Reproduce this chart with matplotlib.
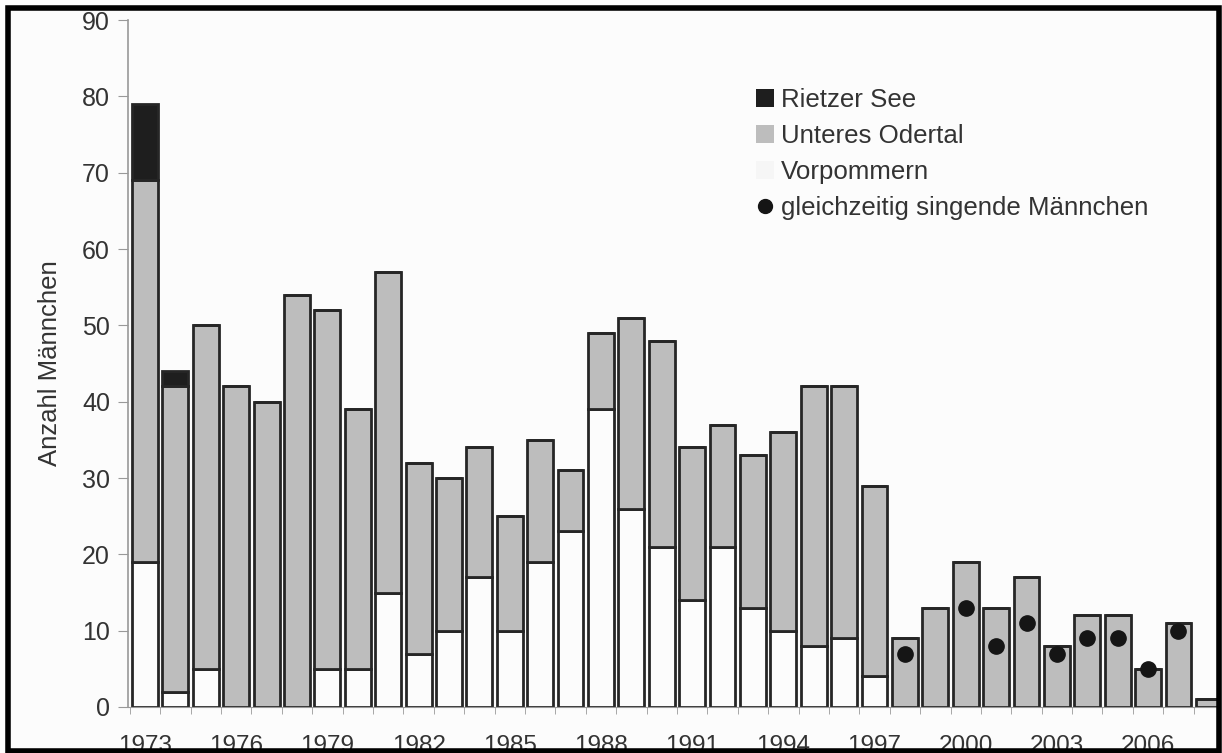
import matplotlib
matplotlib.use("Agg")
import matplotlib.pyplot as plt
import numpy as np
from matplotlib.patches import Rectangle

years = list(range(1973, 2009))
vorpommern = [19, 2, 5, 0, 0, 0, 5, 5, 15, 7, 10, 17, 10, 19, 23, 39, 26, 21, 14, 21,
              13, 10, 8, 9, 4, 0, 0, 0, 0, 0, 0, 0, 0, 0, 0, 0]
totals_oder = [69, 42, 50, 42, 40, 54, 52, 39, 57, 32, 30, 34, 25, 35, 31, 49, 51, 48, 34, 37,
               33, 36, 42, 42, 29, 9, 13, 19, 13, 17, 8, 12, 12, 5, 11, 1]
rietzer = [10, 2] + [0] * 34
dot_years = [1998, 2000, 2001, 2002, 2003, 2004, 2005, 2006, 2007]
dot_values = [7, 13, 8, 11, 7, 9, 9, 5, 10]
yticks = list(range(0, 91, 10))
xtick_years = list(range(1973, 2007, 3))

oder = [t - v for t, v in zip(totals_oder, vorpommern)]

plt.rcParams['font.family'] = ['Liberation Sans', 'DejaVu Sans']
bg = '#fcfcfc'
fig = plt.figure(figsize=(12.22, 7.53), dpi=100, facecolor=bg)
ax = fig.add_axes([128/1222, 1-707/753, (1218-128)/1222, (707-20)/753])
ax.set_facecolor(bg)

w = 0.85
ec = '#262626'
lw = 2.0
ax.bar(years, vorpommern, width=w, color='#fcfcfc', edgecolor=ec, linewidth=lw, zorder=2)
ax.bar(years, oder, width=w, bottom=vorpommern, color='#bdbdbd', edgecolor=ec, linewidth=lw, zorder=2)
ax.bar(years, rietzer, width=w, bottom=totals_oder, color='#1e1e1e', edgecolor=ec, linewidth=lw, zorder=2)
ax.plot(dot_years, dot_values, 'o', color='#151515', markersize=11, linestyle='none', zorder=3)

ax.set_xlim(1972.44, 2008.3)
ax.set_ylim(0, 90)
ax.set_yticks(yticks)
ax.set_xticks(xtick_years)
ax.set_xticks([y + 0.5 for y in years[:-1]] + [1972.5], minor=True)
ax.tick_params(axis='x', which='major', length=0, labelsize=17.5, pad=20, colors='#333333')
ax.tick_params(axis='x', which='minor', length=5, color='#999999')
ax.tick_params(axis='y', length=7, color='#999999', labelsize=18, labelcolor='#333333', pad=6)
for s in ['top', 'right']:
    ax.spines[s].set_visible(False)
ax.spines['left'].set_color('#999999')
ax.spines['bottom'].set_color('#999999')
ax.spines['left'].set_linewidth(1.2)
ax.set_ylabel('Anzahl Männchen', fontsize=18.5, color='#333333', labelpad=14)

h_r = Rectangle((0, 0), 1, 1, facecolor='#1e1e1e', edgecolor='none')
h_o = Rectangle((0, 0), 1, 1, facecolor='#bdbdbd', edgecolor='none')
h_v = Rectangle((0, 0), 1, 1, facecolor='#f6f6f6', edgecolor='none')
h_d, = ax.plot([], [], 'o', color='#151515', markersize=10, linestyle='none')
leg = ax.legend([h_r, h_o, h_v, h_d],
                ['Rietzer See', 'Unteres Odertal', 'Vorpommern', 'gleichzeitig singende Männchen'],
                loc='upper left', bbox_to_anchor=(0.5544, 0.935), frameon=False,
                fontsize=18.6, handlelength=0.7, handleheight=0.7, handletextpad=0.3,
                labelspacing=0.47, labelcolor='#333333')

fig.patches.append(Rectangle((8/1222, 2/753), (1219-8)/1222, (747-4)/753, transform=fig.transFigure,
                             fill=False, edgecolor='black', linewidth=4, zorder=10))

fig.savefig('out.png', dpi=100, facecolor=bg)
